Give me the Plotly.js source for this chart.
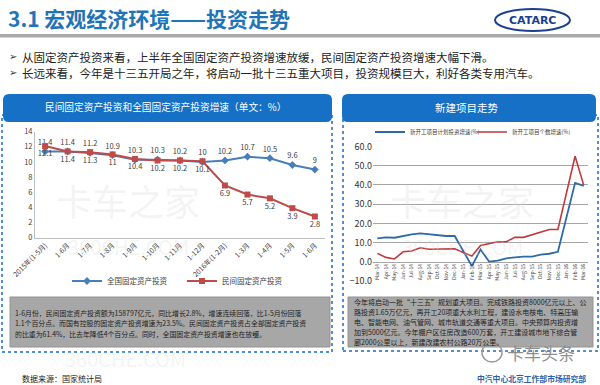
<!DOCTYPE html>
<html><head><meta charset="utf-8">
<script src="https://cdn.plot.ly/plotly-3.0.1.min.js"></script>
<style>html,body{margin:0;padding:0;background:#fff;}#chart{width:600px;height:385px;}</style>
</head><body><div id="chart"></div>
<script>
// ---- Left chart data ----
const leftLabels = ['2015年(1-5月)','1-6月','1-7月','1-8月','1-9月','1-10月','1-11月','1-12月','2016年(1-2月)','1-3月','1-4月','1-5月','1-6月'];
const nationalInv = [11.4,11.4,11.2,10.9,10.3,10.3,10.2,10,10.2,10.7,10.5,9.6,9];
const privateInv  = [12.1,11.4,11.3,11,10.4,10.2,10.2,10.1,6.9,5.7,5.2,3.9,2.8];
const leftNames = ['全国固定资产投资','民间固定资产投资'];
const leftYTicks = [0,2,4,6,8,10,12,14];

// ---- Right chart data ----
const months = ['Mar-14','Apr-14','May-14','Jun-14','Jul-14','Aug-14','Sep-14','Oct-14','Nov-14','Dec-14','Jan-15','Feb-15','Mar-15','Apr-15','May-15','Jun-15','Jul-15','Aug-15','Sep-15','Oct-15','Nov-15','Dec-15','Jan-16','Feb-16','Mar-16'];
const newPlanInv = [12.3,12.8,12.6,13.5,14.3,14.9,14.5,13.8,13.5,13.5,null,-2.1,6.5,0.2,0.7,1.9,2.4,2.8,2.8,3.8,4.3,5.3,null,41.1,39.5];
const newProjCnt = [4.5,2.4,1.6,5.3,5.7,7.4,6.6,6.6,6.6,6.9,5.0,3.1,8.6,9.4,10.5,10.5,12.8,12.8,14.3,15.7,16.9,16.9,null,54.9,39.9];
const rightNames = ['新开工项目计划投资增速(%)','新开工项目个数增速(%)'];
const rightYTicks = [-10,0,10,20,30,40,50,60];

const W = 600, H = 385;
const px = x => x / W;
const py = y => 1 - y / H;
const CJK = '"Noto Sans CJK SC","Noto Sans",sans-serif';

const leftIdx = leftLabels.map((_, i) => i);

const traces = [
  {x: leftIdx, y: nationalInv, name: leftNames[0], type: 'scatter', mode: 'lines+markers+text',
   text: nationalInv.map(String), textposition: 'top center', textfont: {size: 7.5, color: '#404040'},
   line: {color: '#4A7EBB', width: 2}, marker: {symbol: 'diamond', size: 6, color: '#4A7EBB'},
   xaxis: 'x', yaxis: 'y', legend: 'legend', cliponaxis: false},
  {x: leftIdx, y: privateInv, name: leftNames[1], type: 'scatter', mode: 'lines+markers+text',
   text: privateInv.map(String), textposition: 'bottom center', textfont: {size: 7.5, color: '#404040'},
   line: {color: '#BE4B48', width: 2}, marker: {symbol: 'square', size: 6, color: '#BE4B48'},
   xaxis: 'x', yaxis: 'y', legend: 'legend2', cliponaxis: false},
  {x: months, y: newPlanInv, name: rightNames[0], type: 'scatter', mode: 'lines', connectgaps: true,
   line: {color: '#2F6AA8', width: 1.8}, xaxis: 'x2', yaxis: 'y2', legend: 'legend3'},
  {x: months, y: newProjCnt, name: rightNames[1], type: 'scatter', mode: 'lines', connectgaps: true,
   line: {color: '#C0393A', width: 1.6}, xaxis: 'x2', yaxis: 'y2', legend: 'legend4'}
];

function roundRect(x0, y0, x1, y1, r) {
  const P = (x, y) => px(x) + ',' + py(y);
  return 'M' + P(x0 + r, y0) + ' L' + P(x1 - r, y0) + ' Q' + P(x1, y0) + ' ' + P(x1, y0 + r) +
         ' L' + P(x1, y1 - r) + ' Q' + P(x1, y1) + ' ' + P(x1 - r, y1) +
         ' L' + P(x0 + r, y1) + ' Q' + P(x0, y1) + ' ' + P(x0, y1 - r) +
         ' L' + P(x0, y0 + r) + ' Q' + P(x0, y0) + ' ' + P(x0 + r, y0) + ' Z';
}
function rect(x0, y0, x1, y1, extra) {
  return Object.assign({type: 'rect', xref: 'paper', yref: 'paper', x0: px(x0), x1: px(x1), y0: py(y1), y1: py(y0)}, extra);
}

const shapes = [
  rect(0, 34, 600, 37.5, {fillcolor: '#A9A9A9', line: {width: 0}, layer: 'below'}),
  {type: 'circle', xref: 'paper', yref: 'paper', x0: px(495), x1: px(570), y0: py(31), y1: py(9),
   line: {color: '#1D3F91', width: 2}},
  rect(2, 115, 332, 352, {line: {color: '#4F8FD6', width: 2, dash: 'dot'}, layer: 'below'}),
  rect(343, 115, 598, 351, {line: {color: '#4F8FD6', width: 2, dash: 'dot'}, layer: 'below'}),
  {type: 'path', xref: 'paper', yref: 'paper', path: roundRect(3, 94, 332, 122, 6), fillcolor: '#1570C6', line: {width: 0}},
  {type: 'path', xref: 'paper', yref: 'paper', path: roundRect(342, 94, 596, 122, 6), fillcolor: '#1570C6', line: {width: 0}},
  rect(10, 297, 330, 347, {fillcolor: '#A7A7A7', line: {color: '#939393', width: 1}}),
  rect(348, 297, 593, 347, {fillcolor: '#A7A7A7', line: {color: '#939393', width: 1}}),
  {type: 'circle', xref: 'paper', yref: 'paper', x0: px(482), x1: px(502), y0: py(362), y1: py(343),
   line: {color: '#9A9A9A', width: 1.5}}
];

function ann(text, x, y, size, color, opts) {
  return Object.assign({text: text, x: px(x), y: py(y), xref: 'paper', yref: 'paper', showarrow: false,
    xanchor: 'left', yanchor: 'middle', font: {size: size, color: color, family: CJK}}, opts || {});
}
const WM = 'rgba(215,215,215,0.28)';

const annotations = [
  ann('卡车之家', 128, 200, 36, WM, {xanchor: 'center'}),
  ann('360CHE.COM', 128, 246, 20, WM, {xanchor: 'center'}),
  ann('卡车之家', 462, 200, 36, WM, {xanchor: 'center'}),
  ann('360CHE.COM', 462, 246, 20, WM, {xanchor: 'center'}),
  ann('360CHE.COM', 125, 358, 20, WM, {xanchor: 'center'}),
  ann('<b>3.1 宏观经济环境——投资走势</b>', 6, 18, 21, '#1F74B8'),
  ann('<b>CATARC</b>', 532.5, 20, 11, '#1D3F91', {xanchor: 'center', font: {size: 11, color: '#1D3F91', family: 'DejaVu Sans'}}),
  ann('➢', 7, 57, 10, '#333333', {font: {size: 10, color: '#333', family: 'DejaVu Sans'}}),
  ann('从固定资产投资来看，上半年全国固定资产投资增速放缓，民间固定资产投资增速大幅下滑。', 20, 57, 11.5, '#222222'),
  ann('➢', 7, 73, 10, '#333333', {font: {size: 10, color: '#333', family: 'DejaVu Sans'}}),
  ann('长远来看，今年是十三五开局之年，将启动一批十三五重大项目，投资规模巨大，利好各类专用汽车。', 20, 73, 11.5, '#222222'),
  ann('民间固定资产投资和全国固定资产投资增速（单文：%）', 165, 107, 9.7, '#FFFFFF', {xanchor: 'center'}),
  ann('新建项目走势', 467, 107, 10.5, '#FFFFFF', {xanchor: 'center'}),
  ann('1-6月份，民间固定资产投资额为158797亿元，同比增长2.8%，增速连续回落，比1-5月份回落', 13, 312.5, 6.9, '#1E1E1E'),
  ann('1.1个百分点。而国有控股的固定资产投资增速为23.5%。民间固定资产投资占全部固定资产投资', 13, 323, 6.9, '#1E1E1E'),
  ann('的比重为61.4%，比去年降低4个百分点。同时，全国固定资产投资增速也在放缓。', 13, 333.5, 6.9, '#1E1E1E'),
  ann('今年将启动一批“十三五”规划重大项目。完成铁路投资8000亿元以上、公', 352, 302, 7.0, '#1E1E1E'),
  ann('路投资1.65万亿元，再开工20项重大水利工程，建设水电核电、特高压输', 352, 312, 7.0, '#1E1E1E'),
  ann('电、智能电网、油气管网、城市轨道交通等重大项目。中央预算内投资增', 352, 322, 7.0, '#1E1E1E'),
  ann('加到5000亿元。今年棚户区住房改造600万套，开工建设城市地下综合管', 352, 332, 7.0, '#1E1E1E'),
  ann('廊2000公里以上，新建改建农村公路20万公里。', 352, 342, 7.0, '#1E1E1E'),
  ann('数据来源：国家统计局', 20, 378, 8, '#222222'),
  ann('<b>中汽中心北京工作部市场研究部</b>', 475, 378, 7.8, '#2E5FA8'),
  ann('卡车头条', 505, 352, 17, '#8F8F8F')
];

function leg(x, y, size) {
  return {orientation: 'v', x: px(x), y: py(y), xanchor: 'left', yanchor: 'middle',
    font: {size: size, color: '#404040', family: CJK}, itemwidth: 30, bgcolor: 'rgba(0,0,0,0)'};
}

const layout = {
  width: W, height: H, margin: {l: 0, r: 0, t: 0, b: 0},
  paper_bgcolor: '#FFFFFF', plot_bgcolor: 'rgba(0,0,0,0)',
  font: {family: CJK, color: '#404040'},
  showlegend: true,
  xaxis: {domain: [px(35), px(325)], anchor: 'y', range: [-0.45, 12.45],
    tickmode: 'array', tickvals: leftIdx, ticktext: leftLabels, tickangle: -45,
    tickfont: {size: 7, color: '#404040'}, showgrid: false, zeroline: false,
    showline: true, linecolor: '#BFBFBF', linewidth: 1, ticks: ''},
  yaxis: {domain: [py(237.7), py(131.7)], anchor: 'x', range: [0, 14],
    tickmode: 'array', tickvals: leftYTicks, tickfont: {size: 7.5, color: '#404040'},
    showgrid: false, zeroline: false, showline: true, linecolor: '#BFBFBF', linewidth: 1, ticks: ''},
  xaxis2: {type: 'category', domain: [px(373), px(588)], anchor: 'free', position: py(262),
    range: [-0.5, 24.5], tickangle: -90, tickfont: {size: 5, color: '#404040'},
    showgrid: false, zeroline: false, showline: false, ticks: ''},
  yaxis2: {domain: [py(281.3), py(146.4)], anchor: 'x2', range: [-10, 60],
    tickmode: 'array', tickvals: rightYTicks, tickformat: '.1f', tickfont: {size: 9, color: '#333333'},
    showgrid: true, gridcolor: '#A6A6A6', gridwidth: 1, zeroline: false, showline: false, ticks: ''},
  legend: leg(67, 281, 7.5),
  legend2: leg(182, 281, 7.5),
  legend3: leg(370, 132, 5.5),
  legend4: leg(472, 132, 5.5),
  shapes: shapes,
  annotations: annotations
};

Plotly.newPlot('chart', traces, layout, {staticPlot: true, displayModeBar: false});
</script>
</body></html>
